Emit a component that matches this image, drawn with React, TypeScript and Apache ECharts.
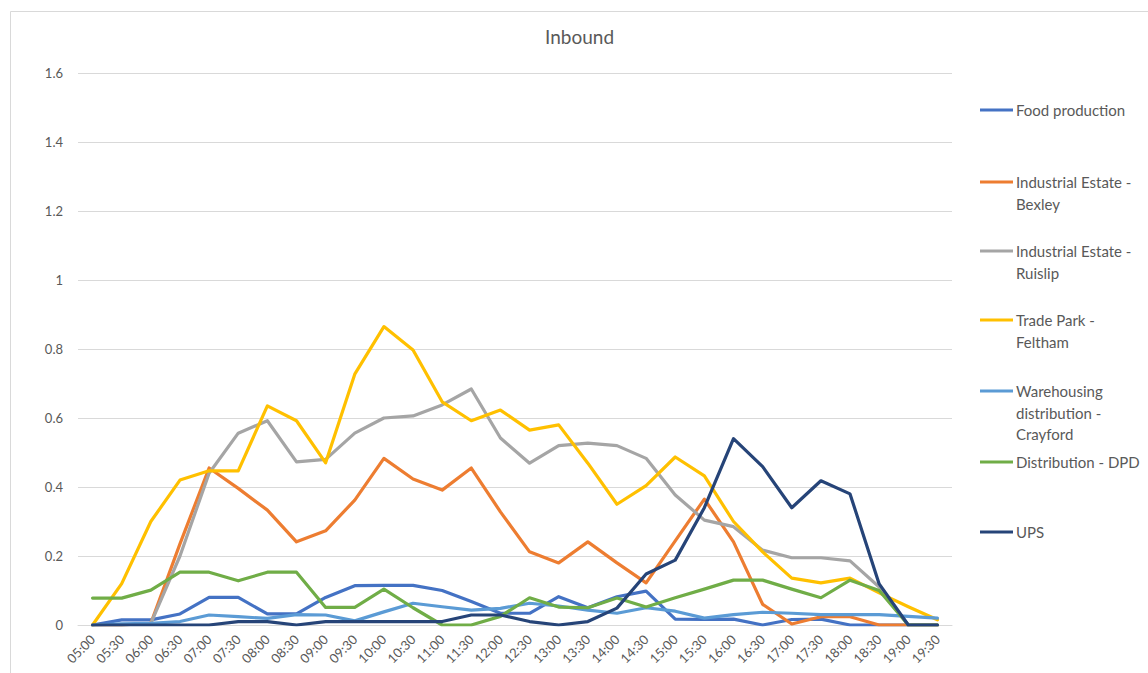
import React, { useEffect, useRef } from "react";
import * as echarts from "echarts";

const categories = [
  "05:00", "05:30", "06:00", "06:30", "07:00", "07:30", "08:00", "08:30", "09:00", "09:30",
  "10:00", "10:30", "11:00", "11:30", "12:00", "12:30", "13:00", "13:30", "14:00", "14:30",
  "15:00", "15:30", "16:00", "16:30", "17:00", "17:30", "18:00", "18:30", "19:00", "19:30",
];

const foodProduction = [
  0, 0.015, 0.015, 0.032, 0.08, 0.08, 0.032, 0.032, 0.08, 0.114,
  0.115, 0.115, 0.1, 0.068, 0.034, 0.034, 0.082, 0.05, 0.082, 0.098,
  0.017, 0.016, 0.017, 0, 0.016, 0.017, 0, 0, 0, 0,
];
const industrialBexley = [
  0, 0, 0.005, 0.235, 0.455, 0.396, 0.333, 0.241, 0.273, 0.362,
  0.483, 0.423, 0.391, 0.455, 0.328, 0.212, 0.18, 0.241, 0.18, 0.122,
  0.244, 0.365, 0.241, 0.06, 0.003, 0.024, 0.024, 0, 0, 0,
];
const industrialRuislip = [
  0, 0, 0.005, 0.2, 0.44, 0.556, 0.592, 0.473, 0.48, 0.556,
  0.6, 0.606, 0.638, 0.684, 0.542, 0.469, 0.52, 0.527, 0.52, 0.483,
  0.377, 0.304, 0.285, 0.217, 0.195, 0.195, 0.186, 0.11, 0, 0,
];
const tradeParkFeltham = [
  0, 0.12, 0.3, 0.42, 0.447, 0.447, 0.635, 0.592, 0.47, 0.727,
  0.865, 0.797, 0.647, 0.592, 0.623, 0.565, 0.58, 0.469, 0.35, 0.404,
  0.487, 0.432, 0.3, 0.212, 0.136, 0.122, 0.136, 0.093, 0.053, 0.015,
];
const warehousingCrayford = [
  0, 0.003, 0.005, 0.01, 0.029, 0.024, 0.019, 0.03, 0.029, 0.012,
  0.038, 0.063, 0.053, 0.043, 0.048, 0.063, 0.055, 0.043, 0.034, 0.05,
  0.04, 0.02, 0.03, 0.037, 0.034, 0.03, 0.03, 0.03, 0.025, 0.02,
];
const distributionDPD = [
  0.078, 0.078, 0.101, 0.153, 0.153, 0.128, 0.153, 0.153, 0.051, 0.051,
  0.104, 0.05, 0, 0, 0.025, 0.079, 0.052, 0.05, 0.078, 0.052,
  0.079, 0.104, 0.13, 0.13, 0.104, 0.079, 0.13, 0.1, 0, 0,
];
const ups = [
  0, 0, 0, 0, 0, 0.01, 0.01, 0, 0.01, 0.01,
  0.01, 0.01, 0.01, 0.029, 0.029, 0.01, 0, 0.01, 0.049, 0.148,
  0.188, 0.34, 0.54, 0.459, 0.34, 0.418, 0.38, 0.119, 0, 0,
];

const seriesNames = [
  "Food production",
  "Industrial Estate - Bexley",
  "Industrial Estate - Ruislip",
  "Trade Park - Feltham",
  "Warehousing distribution - Crayford",
  "Distribution - DPD",
  "UPS",
];
const legendLabels = [
  "Food production",
  "Industrial Estate -\nBexley",
  "Industrial Estate -\nRuislip",
  "Trade Park -\nFeltham",
  "Warehousing\ndistribution -\nCrayford",
  "Distribution - DPD",
  "UPS",
];
const seriesData = [
  foodProduction,
  industrialBexley,
  industrialRuislip,
  tradeParkFeltham,
  warehousingCrayford,
  distributionDPD,
  ups,
];
const colors = ["#4472C4", "#ED7D31", "#A5A5A5", "#FFC000", "#5B9BD5", "#70AD47", "#264478"];
const legendCenters = [110, 182, 251, 320, 391, 462, 532];

const FONT = "Lato, 'Open Sans', sans-serif";
const TEXT = "#595959";
const LH = 21.5;

export default function App() {
  const ref = useRef<HTMLDivElement>(null);
  useEffect(() => {
    if (!ref.current) return;
    const chart = echarts.init(ref.current, undefined, { renderer: "svg" });
    const legends = seriesNames.map((name, i) => {
      const lines = legendLabels[i].split("\n").length;
      const H = LH * lines;
      const mid = LH / 2;
      return {
        show: true,
        orient: "vertical",
        left: 980,
        top: legendCenters[i] - mid,
        padding: 0,
        itemWidth: 33,
        itemHeight: H,
        icon: `path://M0,0h0.05v0.05h-0.05zM0,${mid - 1.5}h33v3h-33zM0,${H - 0.05}h0.05v0.05h-0.05z`,
        itemStyle: { borderWidth: 0 },
        data: [name],
        selectedMode: false,
        formatter: () => legendLabels[i],
        textStyle: { color: TEXT, fontSize: 15, fontFamily: FONT, lineHeight: LH, padding: [0, 0, 0, -2] },
      };
    });
    chart.setOption({
      animation: false,
      backgroundColor: "#ffffff",
      color: colors,
      title: {
        text: "Inbound",
        left: 545,
        top: 27,
        padding: 0,
        textStyle: { color: TEXT, fontSize: 19, fontWeight: "normal", fontFamily: FONT },
      },
      legend: legends,
      grid: { left: 78, right: 196, top: 73, bottom: 48, containLabel: false },
      xAxis: {
        type: "category",
        data: categories,
        boundaryGap: true,
        axisLine: { show: true, lineStyle: { color: "#d9d9d9", width: 1 } },
        axisTick: { show: false },
        axisLabel: { rotate: 45, interval: 0, color: TEXT, fontSize: 13, fontFamily: FONT, margin: 12 },
      },
      yAxis: {
        type: "value",
        min: 0,
        max: 1.6,
        interval: 0.2,
        axisLine: { show: false },
        axisTick: { show: false },
        splitLine: { lineStyle: { color: "#d9d9d9", width: 1 } },
        axisLabel: {
          color: TEXT,
          fontSize: 13,
          fontFamily: FONT,
          margin: 15,
          formatter: (v: number) => String(Math.round(v * 10) / 10),
        },
      },
      series: seriesNames.map((name, i) => ({
        name,
        type: "line",
        data: seriesData[i],
        showSymbol: false,
        symbol: "none",
        lineStyle: { width: 3.2, color: colors[i], cap: "round", join: "round" },
        itemStyle: { color: colors[i] },
      })),
      graphic: [
        {
          type: "rect",
          silent: true,
          shape: { x: 10.5, y: 11.5, width: 1200, height: 700 },
          style: { fill: "none", stroke: "#d9d9d9", lineWidth: 1 },
        },
      ],
    });
    return () => chart.dispose();
  }, []);
  return (
    <div
      ref={ref}
      style={{ position: "absolute", left: 0, top: 0, width: 1148, height: 673 }}
    />
  );
}
